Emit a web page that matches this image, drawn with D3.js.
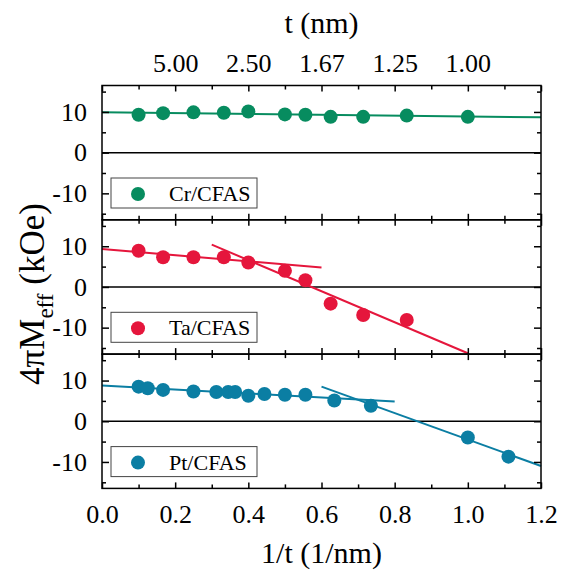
<!DOCTYPE html>
<html>
<head>
<meta charset="utf-8">
<script src="https://cdn.jsdelivr.net/npm/d3@7"></script>
<style>
  body { margin: 0; background: #fff; }
</style>
</head>
<body>
<script>
// donnees
const crX = [0.1, 0.167, 0.25, 0.333, 0.4, 0.5, 0.556, 0.625, 0.714, 0.833, 1.0];
const crY = [9.3, 9.7, 9.9, 9.8, 10.1, 9.4, 9.3, 8.8, 8.8, 9.1, 8.8];
const taX = [0.1, 0.167, 0.25, 0.333, 0.4, 0.5, 0.556, 0.625, 0.714, 0.833];
const taY = [8.9, 7.3, 7.3, 7.3, 6.0, 3.95, 1.65, -4.1, -6.9, -8.1];
const ptX = [0.1, 0.125, 0.167, 0.25, 0.3125, 0.345, 0.364, 0.4, 0.444, 0.5, 0.556, 0.635, 0.735, 1.0, 1.111];
const ptY = [8.5, 8.1, 7.7, 7.3, 7.2, 7.2, 7.2, 6.25, 6.7, 6.5, 6.5, 5.1, 3.8, -4.0, -8.7];

// droites d'ajustement (x debut/fin, y debut/fin)
const crFits = [{x: [0, 1.2], y: [9.9, 8.7]}];
const taFits = [{x: [0, 0.6], y: [9.3, 4.8]}, {x: [0.3, 1.0], y: [10.4, -16.3]}];
const ptFits = [{x: [0, 0.8], y: [8.8, 4.85]}, {x: [0.6, 1.2], y: [8.5, -11.0]}];

const bottomTicks = [0, 0.2, 0.4, 0.6, 0.8, 1.0, 1.2];
const topTickPos = [0.2, 0.4, 0.6, 0.8, 1.0];
const topTickLabels = ["5.00", "2.50", "1.67", "1.25", "1.00"];
const yTicks = [-10, 0, 10];
const yMinor = [-15, -5, 5, 15];

const panels = [
  {name: "Cr/CFAS", color: "#078c5f", xs: crX, ys: crY, fits: crFits},
  {name: "Ta/CFAS", color: "#e5163c", xs: taX, ys: taY, fits: taFits},
  {name: "Pt/CFAS", color: "#0b7ea3", xs: ptX, ys: ptY, fits: ptFits}
];

const FONT = "'Liberation Serif', 'Times New Roman', 'DejaVu Serif', serif";
const W = 568, H = 574;
const left = 102, right = 541, top0 = 85.5, panelH = 134.3;

const svg = d3.select("body").append("svg")
  .attr("width", W)
  .attr("height", H)
  .attr("font-family", FONT);

const x = d3.scaleLinear().domain([0, 1.2]).range([left, right]);
const xMinor = d3.range(0.1, 1.2, 0.2);

panels.forEach((p, i) => {
  const top = top0 + i * panelH;
  const y = d3.scaleLinear().domain([-16.5, 16.5]).range([top + panelH, top]);
  const g = svg.append("g");

  // ligne du zero
  g.append("line")
    .attr("x1", left).attr("x2", right)
    .attr("y1", y(0)).attr("y2", y(0))
    .attr("stroke", "#000").attr("stroke-width", 1.5);

  // droites
  p.fits.forEach(f => {
    g.append("line")
      .attr("x1", x(f.x[0])).attr("x2", x(f.x[1]))
      .attr("y1", y(f.y[0])).attr("y2", y(f.y[1]))
      .attr("stroke", p.color).attr("stroke-width", 2);
  });

  // points
  g.selectAll("circle.pt")
    .data(p.xs.map((v, k) => [v, p.ys[k]]))
    .enter()
    .append("circle")
      .attr("class", "pt")
      .attr("cx", d => x(d[0]))
      .attr("cy", d => y(d[1]))
      .attr("r", 7)
      .attr("fill", p.color);

  // axes y (ticks vers l'interieur)
  const yl = g.append("g").attr("transform", `translate(${left},0)`)
    .call(d3.axisLeft(y).tickValues(yTicks).tickSize(-7).tickPadding(15).tickFormat(d => String(d)));
  g.append("g").attr("transform", `translate(${left},0)`)
    .call(d3.axisLeft(y).tickValues(yMinor).tickSize(-4).tickFormat(""));
  g.append("g").attr("transform", `translate(${right},0)`)
    .call(d3.axisRight(y).tickValues(yTicks).tickSize(-7).tickFormat(""));
  g.append("g").attr("transform", `translate(${right},0)`)
    .call(d3.axisRight(y).tickValues(yMinor).tickSize(-4).tickFormat(""));
  yl.selectAll("text").style("font-size", "26px").attr("fill", "#000");

  // axes x haut et bas de chaque panneau
  g.append("g").attr("transform", `translate(0,${top + panelH})`)
    .call(d3.axisBottom(x).tickValues(bottomTicks).tickSize(-6).tickFormat(""));
  g.append("g").attr("transform", `translate(0,${top + panelH})`)
    .call(d3.axisBottom(x).tickValues(xMinor).tickSize(-4).tickFormat(""));
  g.append("g").attr("transform", `translate(0,${top})`)
    .call(d3.axisTop(x).tickValues(bottomTicks).tickSize(-6).tickFormat(""));
  g.append("g").attr("transform", `translate(0,${top})`)
    .call(d3.axisTop(x).tickValues(xMinor).tickSize(-4).tickFormat(""));

  // cadre
  g.append("rect")
    .attr("x", left).attr("y", top)
    .attr("width", right - left).attr("height", panelH)
    .attr("fill", "none").attr("stroke", "#000").attr("stroke-width", 1.5);

  // legende
  const lg = g.append("g").attr("transform", `translate(111,${top + 92.5})`);
  lg.append("rect")
    .attr("width", 146).attr("height", 30)
    .attr("fill", "#fff").attr("stroke", "#444").attr("stroke-width", 1);
  lg.append("circle").attr("cx", 27).attr("cy", 16).attr("r", 7).attr("fill", p.color);
  lg.append("text").attr("x", 58).attr("y", 23)
    .style("font-size", "22px").text(p.name);
});

svg.selectAll(".domain").remove();
svg.selectAll(".tick line").attr("stroke", "#000").attr("stroke-width", 1.5);

// axe du bas
const bottomY = top0 + 3 * panelH;
const xb = svg.append("g").attr("transform", `translate(0,${bottomY})`)
  .call(d3.axisBottom(x).tickValues(bottomTicks).tickSize(0).tickPadding(16).tickFormat(d3.format(".1f")));
xb.select(".domain").remove();
xb.selectAll("text").style("font-size", "26px").attr("fill", "#000");

// axe du haut (t en nm)
const xt = svg.append("g").attr("transform", `translate(0,${top0})`)
  .call(d3.axisTop(x).tickValues(topTickPos).tickSize(0).tickPadding(14)
    .tickFormat((d, k) => topTickLabels[k]));
xt.select(".domain").remove();
xt.selectAll("text").style("font-size", "26px").attr("fill", "#000");

// titres
svg.append("text")
  .attr("x", (left + right) / 2).attr("y", 563)
  .attr("text-anchor", "middle")
  .style("font-size", "30px")
  .text("1/t (1/nm)");

svg.append("text")
  .attr("x", (left + right) / 2).attr("y", 33)
  .attr("text-anchor", "middle")
  .style("font-size", "30px")
  .text("t (nm)");

const yt = svg.append("text")
  .attr("transform", `translate(44,294) rotate(-90)`)
  .attr("text-anchor", "middle")
  .style("font-size", "35px");
yt.append("tspan").text("4πM");
yt.append("tspan").attr("dy", 9).style("font-size", "23px").text("eff");
yt.append("tspan").attr("dy", -9).text(" (kOe)");

// police serif partout (les axes d3 imposent sans-serif)
svg.selectAll("g").attr("font-family", FONT);
svg.selectAll("text").style("font-family", FONT);
</script>
</body>
</html>
